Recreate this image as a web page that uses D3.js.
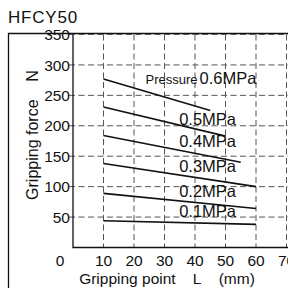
<!DOCTYPE html>
<html>
<head>
<meta charset="utf-8">
<script src="https://cdn.jsdelivr.net/npm/d3@7"></script>
<style>
  body { margin: 0; background: #fff; }
  svg { display: block; font-family: "Liberation Sans", Arial, sans-serif; }
</style>
</head>
<body>
<script>
// Chart data
var pressures = ["0.6MPa", "0.5MPa", "0.4MPa", "0.3MPa", "0.2MPa", "0.1MPa"];
var startX = [10, 10, 10, 10, 10, 10];
var endX = [45, 50, 55, 60, 60, 60];
var startY = [277, 231, 184, 138, 89, 44];
var endY = [225, 183, 140, 100, 64, 38];
// label anchor in data units (x, y)
var labelX = [41.5, 34.8, 34.8, 34.8, 34.8, 34.8];
var labelY = [269, 202, 165, 124, 83, 50];
var xTicks = [10, 20, 30, 40, 50, 60, 70];
var yTicks = [50, 100, 150, 200, 250, 300, 350];

var svgWidth = 288, svgHeight = 288;

var svg = d3.select("body")
    .append("svg")
    .attr("width", svgWidth)
    .attr("height", svgHeight);

var x = d3.scaleLinear().domain([0, 70]).range([73, 286.5]);
var y = d3.scaleLinear().domain([0, 350]).range([247.5, 34.5]);

// Title
svg.append("text")
    .attr("x", 8)
    .attr("y", 23)
    .style("font-size", "17px")
    .style("letter-spacing", "0.8px")
    .style("fill", "#111")
    .text("HFCY50");

// outer frame (left + top)
svg.append("path")
    .attr("d", "M8.5,288 V33.5 H288")
    .attr("fill", "none")
    .attr("stroke", "#111")
    .attr("stroke-width", 1.3);

// dashed grid
svg.selectAll(".hgrid")
    .data(yTicks)
    .enter()
    .append("line")
    .attr("class", "hgrid")
    .attr("x1", x(0) - 4)
    .attr("x2", 288)
    .attr("y1", d => y(d))
    .attr("y2", d => y(d))
    .attr("stroke", "#555")
    .attr("stroke-width", 1)
    .attr("stroke-dasharray", "6,3.5");

svg.selectAll(".vgrid")
    .data(xTicks)
    .enter()
    .append("line")
    .attr("class", "vgrid")
    .attr("x1", d => x(d))
    .attr("x2", d => x(d))
    .attr("y1", y(350))
    .attr("y2", y(0))
    .attr("stroke", "#555")
    .attr("stroke-width", 1)
    .attr("stroke-dasharray", "6,3.5");

// axes lines
svg.append("path")
    .attr("d", "M" + x(0) + "," + y(350) + " V" + y(0) + " H288")
    .attr("fill", "none")
    .attr("stroke", "#111")
    .attr("stroke-width", 1.3);

// tick labels
svg.selectAll(".ylab")
    .data(yTicks)
    .enter()
    .append("text")
    .attr("x", x(0) - 3)
    .attr("y", d => y(d))
    .attr("dy", "0.36em")
    .attr("text-anchor", "end")
    .style("font-size", "15.5px")
    .style("fill", "#111")
    .text(d => d);

svg.selectAll(".xlab")
    .data(xTicks)
    .enter()
    .append("text")
    .attr("x", d => x(d))
    .attr("y", 266)
    .attr("text-anchor", "middle")
    .style("font-size", "15.5px")
    .style("fill", "#111")
    .text(d => d);

svg.append("text")
    .attr("x", 60)
    .attr("y", 266)
    .attr("text-anchor", "middle")
    .style("font-size", "15.5px")
    .style("fill", "#111")
    .text("0");

// axis titles
svg.append("text")
    .attr("x", 167)
    .attr("y", 284)
    .attr("text-anchor", "middle")
    .style("font-size", "15.5px")
    .style("fill", "#111")
    .text("Gripping point\u00a0\u00a0\u00a0\u00a0L\u00a0\u00a0\u00a0\u00a0(mm)");

svg.append("text")
    .attr("transform", "translate(38," + 135 + ") rotate(-90)")
    .attr("text-anchor", "middle")
    .style("font-size", "16px")
    .style("fill", "#111")
    .text("Gripping force\u00a0\u00a0\u00a0\u00a0N");

// pressure lines
svg.selectAll(".pline")
    .data(pressures)
    .enter()
    .append("line")
    .attr("class", "pline")
    .attr("x1", (d, i) => x(startX[i]))
    .attr("y1", (d, i) => y(startY[i]))
    .attr("x2", (d, i) => x(endX[i]))
    .attr("y2", (d, i) => y(endY[i]))
    .attr("stroke", "#111")
    .attr("stroke-width", 1.6);

// labels
svg.selectAll(".plab")
    .data(pressures)
    .enter()
    .append("text")
    .attr("class", "plab")
    .attr("x", (d, i) => x(labelX[i]))
    .attr("y", (d, i) => y(labelY[i]))
    .style("font-size", "16.5px")
    .style("fill", "#111")
    .text(d => d);

svg.append("text")
    .attr("x", x(labelX[0]) - 2)
    .attr("y", y(labelY[0]))
    .attr("text-anchor", "end")
    .style("font-size", "13px")
    .style("fill", "#111")
    .text("Pressure");
</script>
</body>
</html>
